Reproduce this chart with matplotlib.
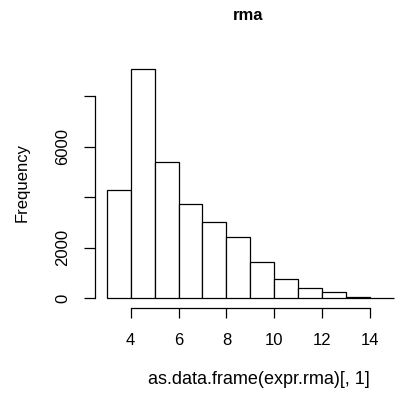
import numpy as np
from matplotlib import pyplot as plt

plt.rcParams['font.family'] = ['Liberation Sans', 'DejaVu Sans']

# histogram of expr.rma, bins of width 1 from 3 to 15
bin_edges = np.arange(3, 16)
counts = [4290, 9070, 5390, 3750, 3030, 2420, 1440, 765, 410, 260, 65, 12]
x_ticks = [4, 6, 8, 10, 12, 14]
y_ticks = [0, 2000, 4000, 6000, 8000]
y_tick_labels = ["0", "2000", "", "6000", ""]

title = "rma"
x_label = "as.data.frame(expr.rma)[, 1]"
y_label = "Frequency"

W, H = 403, 394
fig = plt.figure(figsize=(W / 100, H / 100), dpi=100)
# plot region in pixels (R style, 4% padding on both axes)
left, right, top, bottom = 95.2, 405.5, 60.1, 307.5
ax = fig.add_axes([left / W, 1 - bottom / H, (right - left) / W, (bottom - top) / H])

ax.bar(bin_edges[:-1], counts, width=1, align='edge',
       facecolor='white', edgecolor='black', linewidth=0.9)

span = bin_edges[-1] - bin_edges[0]
ax.set_xlim(bin_edges[0] - 0.04 * span, bin_edges[-1] + 0.04 * span)
ymax = max(counts)
ax.set_ylim(-0.04 * ymax, 1.04 * ymax)

for s in ['top', 'right']:
    ax.spines[s].set_visible(False)
ax.spines['left'].set_bounds(y_ticks[0], y_ticks[-1])
ax.spines['bottom'].set_bounds(x_ticks[0], x_ticks[-1])
for s in ['left', 'bottom']:
    ax.spines[s].set_linewidth(0.9)

ax.set_xticks(x_ticks)
ax.set_xticklabels([str(v) for v in x_ticks], fontsize=12)
ax.set_yticks(y_ticks)
ax.set_yticklabels(y_tick_labels, fontsize=12, rotation=90, va='center')
ax.tick_params(axis='x', direction='out', length=7.3, width=0.9, pad=11)
ax.tick_params(axis='y', direction='out', length=7.6, width=0.9, pad=10.5)

fig.text(248 / W, 1 - 20.5 / H, title, ha='center', va='baseline',
         fontsize=12, fontweight='bold')
fig.text(259 / W, 1 - 380 / H, x_label, ha='center', va='center', fontsize=13)
fig.text(22.5 / W, 1 - 183 / H, y_label, ha='center', va='center',
         rotation=90, fontsize=12)

fig.savefig("out.png", dpi=100)
